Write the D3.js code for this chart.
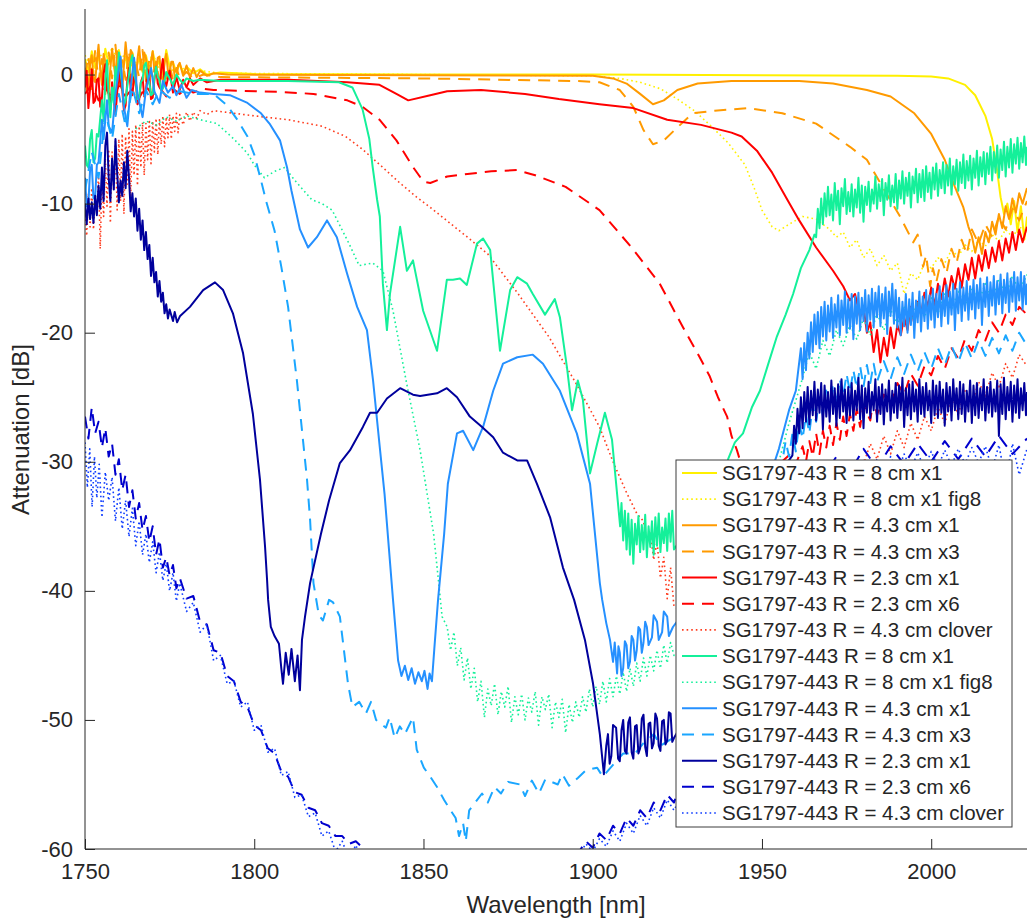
<!DOCTYPE html>
<html><head><meta charset="utf-8">
<script src="https://cdn.jsdelivr.net/npm/d3@7/dist/d3.min.js"></script>
<style>body{margin:0;background:#fff}svg{display:block}text{font-family:"Liberation Sans",Arial,Helvetica,sans-serif;fill:#262626}</style>
</head><body><svg id="c" width="1027" height="920"></svg>
<script>
// ---------- data ([wavelength nm, attenuation dB]) ----------
const xTicks = [1750, 1800, 1850, 1900, 1950, 2000];
const yTicks = [-60, -50, -40, -30, -20, -10, 0];
const seriesNames = ["SG1797-43 R = 8 cm x1","SG1797-43 R = 8 cm x1 fig8","SG1797-43 R = 4.3 cm x1","SG1797-43 R = 4.3 cm x3","SG1797-43 R = 2.3 cm x1","SG1797-43 R = 2.3 cm x6","SG1797-43 R = 4.3 cm clover","SG1797-443 R = 8 cm x1","SG1797-443 R = 8 cm x1 fig8","SG1797-443 R = 4.3 cm x1","SG1797-443 R = 4.3 cm x3","SG1797-443 R = 2.3 cm x1","SG1797-443 R = 2.3 cm x6","SG1797-443 R = 4.3 cm clover"];
const seriesColors = ["#fff000","#fff000","#ff9a00","#ff9a00","#ff0000","#ff0000","#ff3d1f","#14f09a","#14f09a","#2590ff","#1aa6ff","#00009c","#0000cd","#0d3bff"];
const seriesStyles = ["solid","dotted","solid","dashed","solid","dashed","dotted","solid","dotted","solid","dashed","solid","dashed","dotted"];

const yellow8 = [[1750,1.2],[1751,0.2],[1752,1.8],[1753,0.5],[1754,1.5],[1755,-0.3],[1756,2.0],[1757,0.8],[1758,1.6],[1759,0.1],[1760,1.9],[1761,0.6],[1762,1.4],[1763,-0.2],[1764,1.7],[1765,0.4],[1766,1.3],[1767,0.2],[1768,1.5],[1769,0.3],[1770,1.8],[1771,0.5],[1772,1.1],[1773,0.0],[1774,1.9],[1775,0.6],[1776,0.9],[1777,0.2],[1778,0.8],[1779,0.1],[1780,0.6],[1782,0.1],[1784,0.4],[1786,0.0],[1790,0.15],[1800,0.05],[1850,0.0],[1900,0.0],[1950,-0.05],[1990,-0.1],[2000,-0.15],[2005,-0.3],[2010,-0.8],[2013,-1.6],[2016,-3.2],[2018,-5.0],[2019.5,-7.5],[2020.5,-9.5],[2021.5,-10.8],[2022.5,-10.0],[2023.5,-11.6],[2024.5,-9.8],[2025.5,-12.2],[2026.5,-10.2],[2027.5,-12.8],[2028.3,-11.0]];
const yellow8fig8 = [[1750,1.5],[1752,0.4],[1754,1.9],[1756,0.7],[1758,2.1],[1760,0.9],[1762,1.7],[1764,0.5],[1766,1.4],[1768,0.3],[1770,1.6],[1772,0.4],[1774,1.2],[1776,0.3],[1778,0.7],[1780,0.2],[1784,0.3],[1790,0.1],[1850,0.0],[1900,-0.1],[1908,-0.3],[1914,-0.6],[1920,-1.1],[1925,-1.9],[1930,-2.8],[1935,-4.0],[1940,-5.3],[1945,-7.0],[1948,-9.0],[1950,-10.5],[1953,-11.8],[1955,-12.1],[1958,-11.6],[1962,-11.0],[1966,-11.2],[1970,-12.0],[1972,-12.6],[1974,-12.2],[1976,-13.4],[1978,-12.8],[1980,-14.2],[1982,-13.5],[1984,-14.8],[1986,-14.0],[1988,-15.2],[1990,-14.6],[1992,-17.0],[1994,-15.4],[1996,-15.9],[1998,-14.6],[2000,-15.0],[2002,-14.2],[2004,-14.6],[2006,-13.6],[2008,-14.1],[2010,-13.2],[2012,-13.7],[2014,-12.8],[2016,-13.3],[2018,-12.4],[2020,-12.9],[2022,-12.0],[2024,-12.6],[2026,-11.8],[2028.3,-12.2]];
const orange43 = [[1750,0.5],[1750.5,-1.3],[1751,-1.0],[1751.5,0.8],[1752,1.5],[1752.5,-0.2],[1753,-0.6],[1753.5,1.0],[1754,2.3],[1754.5,0.4],[1755,-0.8],[1755.5,1.6],[1756,1.0],[1756.5,-0.6],[1757,-1.4],[1757.5,0.5],[1758,2.0],[1758.5,0.9],[1759,-0.2],[1759.5,1.8],[1760,1.2],[1760.5,-0.5],[1761,-1.2],[1761.5,0.7],[1762,2.5],[1762.5,1.1],[1763,0.0],[1763.5,1.9],[1764,1.6],[1764.5,-0.3],[1765,-0.9],[1765.5,1.2],[1766,2.2],[1766.5,0.6],[1767,0.3],[1767.5,1.7],[1768,1.3],[1768.5,-0.1],[1769,-0.7],[1769.5,1.0],[1770,1.8],[1770.5,0.2],[1771,0.1],[1771.5,1.3],[1772,1.4],[1772.5,-0.2],[1773,-0.4],[1773.5,0.9],[1774,1.6],[1774.5,0.3],[1775,0.2],[1775.5,1.0],[1776,1.0],[1776.5,-0.2],[1777,-0.3],[1777.5,0.7],[1778,0.9],[1779,-0.1],[1780,0.7],[1781,-0.2],[1782,0.5],[1783,-0.2],[1784,0.3],[1786,-0.1],[1788,0.1],[1792,0.0],[1850,-0.05],[1900,-0.1],[1906,-0.3],[1910,-0.7],[1914,-1.5],[1917.8,-2.3],[1921,-2.0],[1925,-1.2],[1931,-0.7],[1941,-0.5],[1961,-0.5],[1971,-0.7],[1981,-1.2],[1988,-1.7],[1995,-3.0],[2000,-4.6],[2004,-6.6],[2007,-8.7],[2009.5,-10.3],[2011,-11.8],[2012,-12.5],[2013,-13.8],[2014,-12.6],[2015,-13.9],[2016,-12.2],[2017,-13.0],[2018,-11.4],[2019,-12.4],[2020,-10.8],[2021,-11.9],[2022,-10.2],[2023,-11.2],[2024,-9.6],[2025,-10.7],[2026,-9.2],[2027,-10.0],[2028.3,-8.8]];
const orange43x3 = [[1750,0.0],[1751,1.4],[1752,-1.2],[1753,1.9],[1754,-0.5],[1755,1.2],[1756,-1.5],[1757,1.7],[1758,-0.3],[1759,2.3],[1760,-0.9],[1761,1.1],[1762,-0.4],[1763,1.8],[1764,-1.0],[1765,0.9],[1766,-0.2],[1767,1.9],[1768,-0.5],[1769,1.2],[1770,-0.3],[1771,1.0],[1772,-0.6],[1773,0.8],[1774,-0.3],[1775,0.7],[1776,-0.4],[1777,0.5],[1778,-0.3],[1780,0.2],[1782,-0.3],[1785,0.0],[1790,-0.2],[1850,-0.3],[1895,-0.5],[1902,-0.6],[1908,-1.2],[1912,-2.5],[1915,-4.3],[1917.8,-5.4],[1921,-5.1],[1925,-4.1],[1929.5,-3.0],[1936,-2.8],[1946,-2.6],[1956,-3.0],[1966,-3.8],[1976,-5.6],[1981,-6.6],[1985.6,-8.7],[1990.8,-11.0],[1994.7,-13.0],[1996,-12.4],[1997.6,-14.9],[1998.5,-14.0],[1999.7,-16.4],[2000.5,-15.0],[2001.5,-16.1],[2003,-14.3],[2004.5,-15.4],[2006,-13.5],[2007.5,-14.6],[2009,-12.8],[2010.5,-13.9],[2012,-12.0],[2014,-13.1],[2016,-11.6],[2018,-12.6],[2020,-11.0],[2022,-12.0],[2024,-10.4],[2026,-11.3],[2028.3,-9.8]];
const red23 = [[1750,-1.0],[1750.5,0.3],[1751,-2.6],[1751.5,-1.1],[1752,0.4],[1752.5,-2.2],[1753,-2.0],[1753.5,-0.4],[1754,-0.3],[1754.5,-2.5],[1755,-1.8],[1755.5,0.1],[1756,0.8],[1756.5,-1.0],[1757,-1.5],[1757.5,-2.7],[1758,-0.6],[1758.5,-1.9],[1759,-3.1],[1759.5,-1.4],[1760,0.2],[1760.5,-0.8],[1761,-1.2],[1761.5,-2.8],[1762,-2.4],[1762.5,-0.5],[1763,0.5],[1763.5,-1.1],[1764,-1.6],[1764.5,-0.2],[1765,-0.5],[1765.5,-2.3],[1766,-2.0],[1766.5,-0.6],[1767,-0.2],[1767.5,-1.7],[1768,-1.3],[1768.5,0.4],[1769,-0.1],[1769.5,-1.9],[1770,-1.8],[1770.5,-0.4],[1771,0.6],[1771.5,-0.7],[1772,-1.0],[1772.5,0.3],[1773,1.2],[1773.5,-0.5],[1774,-0.9],[1775,0.3],[1776,-1.4],[1777,-0.2],[1778,-1.2],[1779,-0.4],[1780,-1.0],[1781,-0.3],[1782,-0.8],[1784,-0.3],[1786,-0.6],[1790,-0.4],[1810,-0.4],[1827.5,-0.6],[1837,-0.8],[1842,-1.5],[1845.5,-2.0],[1852,-1.6],[1857,-1.3],[1867,-1.2],[1880,-1.5],[1890,-1.9],[1902,-2.3],[1912,-2.6],[1922,-3.5],[1932,-3.9],[1941,-4.5],[1944,-4.8],[1948.5,-5.9],[1953,-7.6],[1957.5,-9.7],[1961,-11.3],[1966,-13.4],[1971,-15.2],[1974,-16.4],[1976,-17.5],[1977.5,-17.0],[1979,-18.8],[1980,-18.0],[1981,-20.0],[1982,-19.2],[1983,-21.5],[1984,-19.8],[1985,-22.3],[1986,-20.4],[1987,-21.8],[1988,-19.6],[1989,-21.2],[1990,-19.4],[1991,-20.2],[1992,-18.8],[1993,-19.8],[1994,-18.0],[1995,-19.3],[1996,-17.6],[1997,-18.6],[1998,-16.9],[1999,-18.0],[2000,-16.5],[2001,-17.9],[2002,-16.2],[2003,-17.4],[2004,-15.8],[2005,-17.2],[2006,-15.6],[2007,-16.6],[2008,-15.0],[2009,-16.5],[2010,-14.7],[2011,-15.9],[2012,-14.2],[2013,-15.8],[2014,-14.0],[2015,-15.2],[2016,-13.6],[2017,-15.0],[2018,-13.4],[2019,-14.5],[2020,-12.9],[2021,-14.4],[2022,-12.7],[2023,-13.8],[2024,-12.2],[2025,-13.6],[2026,-12.0],[2027,-13.0],[2028.3,-11.8]];
const red23x6 = [[1750,-1.5],[1752,-0.8],[1754,-2.0],[1756,-1.0],[1758,-1.9],[1760,-0.9],[1762,-1.7],[1764,-1.1],[1766,-1.8],[1768,-0.9],[1770,-1.6],[1772,-1.0],[1774,-1.7],[1776,-1.1],[1778,-1.5],[1780,-1.0],[1782,-1.4],[1785,-1.1],[1788,-1.2],[1808,-1.35],[1817.5,-1.5],[1827.5,-2.0],[1832,-2.5],[1837,-3.5],[1842,-5.1],[1847,-7.2],[1850,-8.3],[1852,-8.4],[1857,-7.9],[1863,-7.7],[1870,-7.5],[1877.6,-7.4],[1883,-7.8],[1892,-8.7],[1902,-10.5],[1911.5,-13.4],[1919.8,-16.2],[1926.7,-19.6],[1931.6,-21.9],[1934.6,-23.4],[1937,-25.0],[1939.7,-26.5],[1941,-28.0],[1942.6,-29.1],[1944,-30.3],[1946,-30.6],[1950,-30.5],[1955,-30.2],[1958,-29.5],[1960,-30.2],[1962,-28.8],[1963,-30.0],[1964,-28.4],[1965,-29.6],[1966,-27.8],[1967,-29.4],[1968,-27.6],[1969,-28.9],[1970,-27.2],[1971,-28.7],[1972,-27.0],[1973,-28.3],[1974,-26.5],[1975,-28.0],[1976,-26.3],[1977,-27.6],[1978,-25.9],[1979,-27.3],[1980,-25.6],[1982,-26.8],[1983,-25.0],[1984,-26.4],[1986,-24.8],[1988,-25.6],[1990,-23.9],[1992,-24.8],[1994,-23.2],[1996,-24.1],[1998,-22.6],[2000,-23.3],[2002,-21.8],[2004,-22.8],[2006,-21.2],[2008,-22.0],[2010,-20.5],[2012,-21.4],[2014,-19.8],[2016,-20.6],[2018,-19.2],[2020,-20.0],[2022,-18.6],[2024,-19.4],[2026,-18.0],[2028.3,-18.6]];
const red43clover = [[1750,-10.5],[1750.5,-12.5],[1751,-9.2],[1751.5,-11.8],[1752,-8.8],[1752.5,-12.0],[1753,-9.5],[1753.5,-10.8],[1754,-7.5],[1754.5,-13.5],[1755,-8.0],[1755.5,-11.0],[1756,-6.5],[1756.5,-10.2],[1757,-5.8],[1757.5,-11.5],[1758,-6.0],[1758.5,-9.0],[1759,-5.2],[1759.5,-10.5],[1760,-5.0],[1760.5,-9.8],[1761,-4.6],[1761.5,-10.8],[1762,-4.8],[1762.5,-8.5],[1763,-4.2],[1763.5,-9.6],[1764,-4.4],[1764.5,-7.8],[1765,-3.9],[1765.5,-8.6],[1766,-4.0],[1766.5,-7.2],[1767,-3.7],[1767.5,-7.8],[1768,-3.8],[1768.5,-6.6],[1769,-3.5],[1769.5,-6.9],[1770,-3.6],[1770.5,-6.0],[1771,-3.4],[1771.5,-6.2],[1772,-3.5],[1772.5,-5.4],[1773,-3.2],[1773.5,-5.6],[1774,-3.3],[1774.5,-4.9],[1775,-3.1],[1775.5,-5.0],[1776,-3.2],[1776.5,-4.4],[1777,-3.0],[1777.5,-4.5],[1778,-3.1],[1779,-3.9],[1780,-2.9],[1781,-3.6],[1782,-2.9],[1783,-3.4],[1784,-2.8],[1786,-3.1],[1788,-2.8],[1800,-3.2],[1810,-3.5],[1820,-4.0],[1827,-4.8],[1832,-5.8],[1838,-7.2],[1843,-8.4],[1848,-9.5],[1853,-10.5],[1863,-12.6],[1869,-13.9],[1878,-17.0],[1887,-20.3],[1895,-23.9],[1902,-27.3],[1906,-30.0],[1910,-32.4],[1913,-34.0],[1915,-34.6],[1916,-36.2],[1917,-35.4],[1918,-37.6],[1919,-36.2],[1920,-39.0],[1921,-37.4],[1922,-40.6],[1923,-38.2],[1924,-41.2],[1935,-43],[1950,-40],[1962,-36],[1975,-31.5],[1980,-30.2],[1982,-28.6],[1984,-29.8],[1986,-28.0],[1988,-29.4],[1990,-27.6],[1992,-28.9],[1994,-27.0],[1996,-28.3],[1998,-26.5],[2000,-27.6],[2002,-25.8],[2004,-27.0],[2006,-25.2],[2008,-26.3],[2010,-24.5],[2012,-25.6],[2014,-23.8],[2016,-24.9],[2018,-23.1],[2020,-24.2],[2022,-22.4],[2024,-23.5],[2026,-21.7],[2028.3,-22.6]];
const green8 = [[1750,-5.5],[1750.5,-7.0],[1751,-7.2],[1751.5,-5.0],[1752,-4.3],[1752.5,-6.8],[1753,-6.5],[1753.5,-4.6],[1754,-4.8],[1754.5,-3.4],[1755,-2.0],[1755.5,-3.6],[1756,-0.5],[1756.5,1.1],[1757,-1.8],[1757.5,-3.3],[1758,-1.0],[1758.5,-2.2],[1759,0.6],[1759.5,-0.6],[1760,1.7],[1760.5,0.2],[1761,-0.8],[1761.5,-2.4],[1762,-2.0],[1762.5,-0.9],[1763,0.0],[1763.5,1.0],[1764,1.5],[1764.5,0.1],[1765,-0.5],[1765.5,-1.9],[1766,-1.8],[1766.5,-0.6],[1767,-0.4],[1767.5,0.7],[1768,0.9],[1768.5,-0.3],[1769,-0.6],[1769.5,-1.6],[1770,-1.5],[1770.5,-0.2],[1771,0.6],[1771.5,-0.2],[1772,-0.4],[1772.5,-1.2],[1773,-1.1],[1774,0.2],[1775,-0.3],[1776,-0.8],[1777,0.0],[1778,-0.4],[1779,-0.7],[1780,-0.3],[1782,-0.5],[1784,-0.4],[1790,-0.5],[1810,-0.5],[1825,-0.6],[1829,-1.0],[1832,-2.7],[1834,-5.0],[1835,-7.2],[1836.3,-9.7],[1837.1,-11.0],[1838,-16.2],[1839.2,-19.8],[1840.1,-17.0],[1843.1,-11.8],[1845.1,-15.2],[1846.9,-14.4],[1849.9,-18.3],[1854,-21.4],[1856.9,-15.9],[1858.7,-15.9],[1860.8,-15.8],[1862.8,-16.3],[1865.8,-13.1],[1867.6,-12.7],[1869.7,-13.6],[1872.6,-21.4],[1875.6,-16.7],[1877.7,-15.7],[1880.6,-16.2],[1882.3,-17.0],[1885.9,-18.6],[1888.8,-17.4],[1890.3,-18.8],[1892.4,-22.7],[1893.9,-26.0],[1895.6,-23.7],[1897.1,-25.2],[1899.2,-30.9],[1901.3,-28.6],[1903.6,-26.2],[1905.7,-28.3],[1908.1,-35.0],[1908.5,-33.2],[1909,-36.1],[1909.5,-33.8],[1910,-36.8],[1910.5,-34.0],[1911,-37.2],[1911.5,-34.5],[1912,-37.9],[1912.5,-34.8],[1913,-36.4],[1913.5,-34.2],[1914,-37.0],[1914.5,-34.9],[1915,-36.8],[1915.5,-34.1],[1916,-37.4],[1916.5,-35.0],[1917,-36.6],[1917.5,-34.6],[1918,-37.2],[1918.5,-34.3],[1919,-36.5],[1919.5,-34.0],[1920,-37.0],[1920.5,-35.1],[1921,-36.3],[1921.5,-34.4],[1922,-36.9],[1922.5,-34.0],[1923,-36.2],[1923.5,-33.8],[1924,-36.8],[1926,-36.0],[1932,-35.5],[1938,-31.5],[1940,-29.8],[1942,-28.5],[1944.4,-27.8],[1947,-25.8],[1949.4,-24.5],[1952,-22.3],[1954.4,-20.3],[1957,-18.6],[1959.2,-17.0],[1961.5,-15.0],[1964,-13.6],[1965.5,-12.4],[1966,-12.6],[1966.5,-10.4],[1967,-11.9],[1967.5,-9.6],[1968,-11.6],[1968.5,-9.2],[1969,-11.0],[1969.5,-8.7],[1970,-10.9],[1970.5,-9.3],[1971,-11.3],[1971.5,-8.4],[1972,-10.5],[1972.5,-9.0],[1973,-11.6],[1973.5,-8.8],[1974,-10.2],[1974.5,-8.1],[1975,-10.8],[1975.5,-9.1],[1976,-10.6],[1976.5,-8.5],[1977,-11.0],[1977.5,-8.9],[1978,-10.3],[1978.5,-8.0],[1979,-10.7],[1979.5,-8.6],[1980,-11.4],[1980.5,-8.7],[1981,-10.1],[1981.5,-8.3],[1982,-10.6],[1982.5,-8.9],[1983,-10.0],[1983.5,-7.9],[1984,-10.4],[1984.5,-8.5],[1985,-9.8],[1985.5,-8.1],[1986,-10.9],[1986.5,-8.4],[1987,-9.7],[1987.5,-7.8],[1988,-10.2],[1988.5,-8.6],[1989,-9.9],[1989.5,-7.7],[1990,-10.4],[1990.5,-8.2],[1991,-9.6],[1991.5,-7.5],[1992,-10.0],[1992.5,-8.0],[1993,-9.4],[1993.5,-7.6],[1994,-10.3],[1994.5,-7.9],[1995,-9.2],[1995.5,-7.3],[1996,-9.9],[1996.5,-7.7],[1997,-9.5],[1997.5,-7.4],[1998,-9.8],[1998.5,-7.1],[1999,-9.1],[1999.5,-7.6],[2000,-9.6],[2000.5,-7.2],[2001,-8.9],[2001.5,-6.9],[2002,-9.4],[2002.5,-7.4],[2003,-8.8],[2003.5,-6.8],[2004,-9.2],[2004.5,-7.0],[2005,-8.6],[2005.5,-6.5],[2006,-9.3],[2006.5,-7.1],[2007,-8.5],[2007.5,-6.6],[2008,-9.0],[2008.5,-6.8],[2009,-8.4],[2009.5,-6.2],[2010,-8.8],[2010.5,-6.7],[2011,-8.2],[2011.5,-6.3],[2012,-8.9],[2012.5,-6.5],[2013,-8.0],[2013.5,-5.9],[2014,-8.6],[2014.5,-6.4],[2015,-7.9],[2015.5,-6.0],[2016,-8.5],[2016.5,-6.1],[2017,-7.7],[2017.5,-5.6],[2018,-8.2],[2018.5,-6.0],[2019,-7.6],[2019.5,-5.5],[2020,-8.0],[2020.5,-5.8],[2021,-7.4],[2021.5,-5.2],[2022,-7.9],[2022.5,-5.6],[2023,-7.2],[2023.5,-5.0],[2024,-7.6],[2024.5,-5.4],[2025,-6.9],[2025.5,-4.9],[2026,-7.3],[2026.5,-5.3],[2027,-6.8],[2027.5,-4.8],[2028,-7.0],[2028.3,-5.6]];
const green8fig8 = [[1765,-4.2],[1768,-3.6],[1771,-3.9],[1774,-3.3],[1777,-3.6],[1780,-3.2],[1784,-3.5],[1789,-3.8],[1794,-5.0],[1798,-6.1],[1800,-7.0],[1803,-8.0],[1806,-7.5],[1809,-7.2],[1812,-8.2],[1817,-9.7],[1820,-10.0],[1823,-10.5],[1828,-13.1],[1831,-14.8],[1835,-14.6],[1838,-15.2],[1841,-18.3],[1845,-23.9],[1849,-29.1],[1853,-35.6],[1854.5,-39.4],[1855.5,-42.0],[1857,-42.8],[1858,-44.6],[1859,-43.2],[1860,-45.8],[1861,-44.4],[1862,-46.9],[1863,-45.2],[1864,-47.6],[1865,-46.0],[1866,-48.6],[1867,-47.0],[1868,-49.8],[1869,-47.6],[1870,-48.9],[1871,-47.2],[1872,-49.6],[1873,-47.8],[1874,-49.0],[1875,-47.4],[1876,-50.2],[1877,-48.2],[1878,-49.6],[1879,-48.0],[1880,-50.0],[1881,-48.3],[1882,-49.4],[1883,-47.8],[1884,-50.4],[1885,-48.2],[1886,-49.2],[1887,-48.0],[1888,-50.6],[1889,-48.6],[1890,-49.8],[1891,-48.4],[1892,-51.0],[1893,-48.8],[1894,-50.2],[1895,-48.6],[1896,-49.8],[1897,-48.2],[1898,-49.4],[1899,-47.6],[1900,-49.0],[1901,-47.4],[1902,-48.8],[1903,-47.0],[1904,-48.6],[1905,-46.8],[1906,-48.2],[1907,-46.6],[1908,-48.0],[1909,-46.3],[1910,-47.8],[1911,-46.0],[1912,-47.4],[1913,-45.6],[1914,-47.0],[1915,-45.2],[1916,-46.6],[1917,-45.0],[1918,-46.2],[1919,-44.6],[1920,-46.0],[1921,-44.2],[1922,-45.6],[1923,-44.0],[1924,-45.0],[1935,-47],[1950,-35],[1958,-27],[1962,-23.5],[1964,-21.5],[1966,-22.8],[1968,-20.6],[1970,-21.8],[1972,-19.8],[1974,-21.0],[1976,-19.4],[1978,-20.5],[1980,-18.9],[1982,-20.2],[1984,-18.5],[1986,-19.8],[1988,-18.2],[1990,-19.4],[1992,-17.9],[1994,-19.1],[1996,-17.6],[1998,-18.8],[2000,-17.3],[2002,-18.5],[2004,-17.0],[2006,-18.2],[2008,-16.8],[2010,-17.9],[2012,-16.5],[2014,-17.6],[2016,-16.2],[2018,-17.4],[2020,-15.9],[2022,-17.1],[2024,-15.6],[2026,-16.8],[2028.3,-15.5]];
const blue43 = [[1750,-8.0],[1750.5,-10.2],[1751,-10.0],[1751.5,-7.4],[1752,-7.0],[1752.5,-9.6],[1753,-9.5],[1753.5,-7.0],[1754,-6.8],[1754.5,-5.2],[1755,-3.5],[1755.5,-5.0],[1756.5,-2.0],[1757,-4.0],[1758,-4.5],[1759,-1.5],[1760.5,1.4],[1761.5,-2.5],[1762.5,-4.0],[1763.5,-1.0],[1764.5,1.3],[1765.5,-1.5],[1767,-3.3],[1768,-1.2],[1769.5,0.5],[1770.5,-1.3],[1772,-2.2],[1773,-0.5],[1774.5,-1.4],[1776,-0.9],[1777,-1.6],[1778.5,-0.8],[1780,-1.8],[1781.5,-1.2],[1784,-1.4],[1788,-1.5],[1792.8,-1.6],[1798,-2.2],[1802,-3.0],[1804.5,-3.8],[1807.6,-5.1],[1809.7,-7.2],[1811,-9.0],[1813.5,-12.0],[1815.9,-13.4],[1818.5,-12.6],[1821.5,-11.3],[1824.4,-12.6],[1827.4,-15.4],[1830.4,-18.0],[1833.3,-19.8],[1835.1,-23.7],[1837.1,-28.9],[1838.5,-32.5],[1841,-40.7],[1842.5,-45.4],[1843.5,-46.6],[1844.5,-45.8],[1845.5,-46.9],[1846.5,-46.0],[1847.5,-47.2],[1848.5,-46.3],[1849.5,-47.0],[1850.3,-46.2],[1851.2,-47.6],[1851.8,-46.4],[1852.5,-47.0],[1853.2,-44.5],[1854.3,-40.7],[1856.1,-35.6],[1857.2,-31.7],[1859.9,-27.8],[1861.7,-27.6],[1864.7,-29.1],[1867.6,-27.3],[1870.6,-24.5],[1873.5,-22.4],[1877.7,-21.9],[1882.3,-21.7],[1885.3,-22.4],[1890.3,-24.5],[1895.3,-27.8],[1899.2,-31.7],[1902.1,-39.4],[1902.8,-40.7],[1904,-42.5],[1905.1,-43.8],[1906,-45.5],[1906.5,-44.0],[1907.2,-46.4],[1907.6,-44.3],[1908,-44.8],[1908.5,-46.6],[1909,-46.0],[1909.5,-43.9],[1910,-44.2],[1910.5,-46.0],[1911,-45.5],[1911.5,-43.5],[1912,-43.8],[1912.5,-45.4],[1913,-44.6],[1913.5,-42.8],[1914,-43.0],[1914.5,-44.8],[1915,-44.0],[1915.5,-42.4],[1916,-42.8],[1916.5,-44.2],[1917.5,-43.6],[1918,-41.9],[1919,-42.4],[1919.5,-43.8],[1920.5,-43.2],[1921,-41.6],[1922,-42.0],[1922.5,-43.5],[1923.7,-42.8],[1926,-42.0],[1940,-38],[1950,-33],[1955,-29],[1958,-26],[1960,-24.5],[1961.5,-21.2],[1962,-23.6],[1962.5,-20.8],[1963,-22.9],[1963.5,-20.0],[1964,-22.0],[1964.5,-19.2],[1965,-21.5],[1965.5,-18.6],[1966,-20.9],[1966.5,-18.4],[1967,-21.2],[1967.5,-18.0],[1968,-20.3],[1968.5,-17.6],[1969,-20.6],[1969.5,-17.9],[1970,-19.9],[1970.5,-17.3],[1971,-20.4],[1971.5,-17.8],[1972,-19.6],[1972.5,-17.1],[1973,-20.2],[1973.5,-17.5],[1974,-19.4],[1974.5,-16.8],[1975,-20.0],[1975.5,-17.4],[1976,-19.7],[1976.5,-17.0],[1977,-20.5],[1977.5,-17.2],[1978,-19.3],[1978.5,-16.9],[1979,-19.8],[1979.5,-17.3],[1980,-19.1],[1980.5,-16.7],[1981,-19.9],[1981.5,-17.1],[1982,-19.0],[1982.5,-16.6],[1983,-19.6],[1983.5,-16.9],[1984,-18.8],[1984.5,-16.4],[1985,-19.5],[1985.5,-17.0],[1986,-18.9],[1986.5,-16.5],[1987,-20.1],[1987.5,-16.8],[1988,-18.7],[1988.5,-16.2],[1989,-19.3],[1989.5,-16.7],[1990,-19.6],[1990.5,-17.3],[1991,-20.2],[1991.5,-17.6],[1992,-19.5],[1992.5,-17.0],[1993,-20.0],[1993.5,-17.4],[1994,-19.4],[1994.5,-16.9],[1995,-20.4],[1995.5,-17.5],[1996,-19.2],[1996.5,-16.8],[1997,-19.9],[1997.5,-17.2],[1998,-19.1],[1998.5,-16.7],[1999,-19.7],[1999.5,-17.1],[2000,-19.0],[2000.5,-16.6],[2001,-19.6],[2001.5,-17.0],[2002,-18.8],[2002.5,-16.4],[2003,-19.5],[2003.5,-16.9],[2004,-18.7],[2004.5,-16.3],[2005,-19.3],[2005.5,-16.8],[2006,-18.6],[2006.5,-16.2],[2007,-19.8],[2007.5,-16.6],[2008,-18.5],[2008.5,-16.1],[2009,-19.1],[2009.5,-16.5],[2010,-18.3],[2010.5,-16.0],[2011,-19.0],[2011.5,-16.4],[2012,-18.2],[2012.5,-15.9],[2013,-18.9],[2013.5,-16.3],[2014,-18.1],[2014.5,-15.8],[2015,-19.4],[2015.5,-16.2],[2016,-18.0],[2016.5,-15.7],[2017,-18.7],[2017.5,-16.1],[2018,-17.9],[2018.5,-15.6],[2019,-18.6],[2019.5,-16.0],[2020,-17.8],[2020.5,-15.5],[2021,-18.5],[2021.5,-15.9],[2022,-17.7],[2022.5,-15.4],[2023,-18.4],[2023.5,-15.8],[2024,-17.6],[2024.5,-15.3],[2025,-18.3],[2025.5,-15.7],[2026,-17.5],[2026.5,-15.3],[2027,-18.2],[2027.5,-15.6],[2028,-17.8],[2028.3,-16.2]];
const blue43x3 = [[1750,-9.0],[1752,-6.0],[1754,-8.0],[1756,-3.0],[1758,-5.0],[1760,-1.5],[1762,-4.0],[1764,-1.0],[1766,-3.0],[1768,-1.2],[1770,-2.3],[1772,-1.2],[1775,-1.8],[1778,-1.3],[1782,-1.5],[1788,-1.5],[1792,-2.4],[1795,-3.5],[1798,-4.8],[1800,-6.2],[1802,-8.2],[1803.5,-9.8],[1806,-12.1],[1808,-14.9],[1810,-18.0],[1812.6,-23.7],[1815.6,-31.4],[1816.5,-34.5],[1817.5,-39.4],[1819.1,-41.9],[1820.3,-42.3],[1822.1,-40.7],[1823.3,-40.9],[1825.3,-42.0],[1827.7,-47.2],[1829,-49.0],[1831,-48.6],[1833,-49.5],[1834.5,-48.6],[1836,-50.0],[1838.9,-50.6],[1840,-49.8],[1841.5,-51.4],[1843,-50.5],[1844.5,-51.1],[1846.9,-49.8],[1848,-52.3],[1850.1,-53.7],[1852,-54.4],[1854,-55.2],[1856.1,-56.2],[1858,-57.0],[1859.5,-57.6],[1860.5,-59.0],[1861.7,-58.0],[1862.5,-59.4],[1863.5,-57.0],[1865,-56.5],[1867.3,-55.7],[1869,-56.4],[1871,-55.2],[1872.9,-55.7],[1875,-54.8],[1878.5,-55.0],[1880,-55.9],[1882,-54.7],[1884.1,-55.7],[1886,-54.6],[1889.7,-55.0],[1891,-54.2],[1893,-55.1],[1895.6,-54.5],[1898,-53.9],[1901.3,-53.7],[1903,-54.4],[1906.9,-53.2],[1909,-52.6],[1912.5,-52.6],[1915,-51.8],[1918.1,-51.1],[1920,-52.0],[1923.7,-51.4],[1930,-49],[1945,-40],[1956,-30.0],[1957,-28.4],[1958,-29.6],[1959,-27.8],[1960,-29.2],[1961,-27.0],[1962,-28.2],[1963,-26.4],[1964,-27.8],[1965,-25.6],[1966,-26.9],[1967,-25.0],[1968,-26.4],[1969,-24.4],[1970,-25.8],[1971,-24.0],[1972,-25.5],[1973,-23.6],[1974,-24.9],[1975,-23.2],[1976,-24.6],[1977,-22.9],[1978,-24.3],[1979,-22.6],[1980,-24.2],[1981,-22.5],[1982,-23.9],[1983,-22.4],[1984,-23.8],[1986,-22.2],[1988,-23.6],[1990,-21.9],[1992,-23.2],[1994,-21.7],[1996,-23.0],[1998,-21.5],[2000,-22.8],[2002,-21.2],[2004,-22.5],[2006,-21.0],[2008,-22.3],[2010,-20.8],[2012,-22.0],[2014,-20.6],[2016,-21.8],[2018,-20.4],[2020,-21.6],[2022,-20.2],[2024,-21.4],[2026,-20.0],[2028.3,-21.0]];
const navy23 = [[1750,-10.0],[1750.5,-11.6],[1751,-9.6],[1751.5,-11.2],[1752,-9.9],[1752.5,-11.5],[1753,-9.4],[1753.5,-10.9],[1754,-8.6],[1754.5,-10.4],[1755,-7.2],[1755.5,-9.8],[1756,-5.5],[1756.5,-4.5],[1757,-8.0],[1757.5,-9.8],[1758,-6.5],[1758.5,-8.9],[1759,-5.0],[1759.5,-7.6],[1760,-9.9],[1760.5,-8.2],[1761,-9.4],[1761.5,-6.8],[1762,-8.8],[1762.5,-5.9],[1763,-8.0],[1763.5,-10.6],[1764,-9.2],[1764.5,-11.0],[1765,-9.6],[1765.5,-12.1],[1766,-10.4],[1766.5,-12.8],[1767,-11.3],[1767.5,-13.6],[1768,-12.2],[1768.5,-14.3],[1769,-13.2],[1769.5,-15.6],[1770,-14.2],[1770.5,-16.1],[1771,-15.3],[1771.5,-17.2],[1772,-16.0],[1772.5,-17.6],[1773,-16.9],[1773.5,-18.5],[1774,-17.8],[1774.5,-18.9],[1775,-18.2],[1776,-19.1],[1776.5,-18.4],[1777.2,-19.2],[1778.1,-18.7],[1781,-18.0],[1784.9,-16.7],[1788.4,-16.1],[1790.8,-16.7],[1793.7,-18.5],[1796.7,-21.6],[1799.6,-26.3],[1801.7,-31.4],[1803.2,-36.6],[1803.8,-39.2],[1804.1,-40.7],[1804.9,-42.8],[1806,-43.5],[1807.3,-44.1],[1808,-46.0],[1808.5,-47.2],[1809.3,-44.8],[1810.2,-46.5],[1811,-44.5],[1812,-47.0],[1812.8,-45.0],[1813.5,-47.7],[1814.1,-43.8],[1815,-42.0],[1816.5,-39.4],[1819.7,-35.6],[1822.1,-33.0],[1825.3,-30.1],[1828.3,-29.1],[1832.1,-27.3],[1834.2,-26.2],[1836.3,-26.2],[1839.2,-25.1],[1843.1,-24.3],[1846.9,-24.8],[1849,-24.9],[1854,-24.7],[1856.9,-24.3],[1859.9,-25.0],[1863.7,-26.5],[1867.3,-27.3],[1870.6,-28.1],[1873.5,-29.3],[1877.7,-29.9],[1880.6,-29.9],[1883.5,-31.7],[1887.4,-34.3],[1891.2,-38.2],[1894.5,-40.7],[1897.7,-43.8],[1900.1,-47.2],[1902.1,-51.1],[1903.3,-54.2],[1904,-52.0],[1904.5,-51.1],[1905,-53.4],[1905.5,-52.8],[1906,-50.4],[1906.9,-50.6],[1907.5,-53.0],[1908,-53.2],[1908.5,-50.8],[1909,-50.0],[1909.5,-52.4],[1910,-52.6],[1910.5,-50.2],[1911,-49.8],[1911.5,-52.5],[1912,-53.0],[1912.5,-50.5],[1913,-50.4],[1913.5,-52.6],[1914,-52.2],[1914.5,-49.9],[1915,-49.6],[1915.5,-52.1],[1916,-52.8],[1916.5,-50.3],[1917,-50.2],[1917.5,-52.2],[1918,-51.8],[1918.5,-49.5],[1919,-49.9],[1919.5,-52.0],[1920,-52.4],[1920.5,-50.1],[1921,-50.0],[1921.5,-51.9],[1922,-51.6],[1922.5,-49.4],[1923,-49.5],[1923.5,-51.7],[1924,-51.4],[1926,-50.5],[1945,-40],[1955,-31],[1959,-29.5],[1959.5,-27.2],[1960,-28.6],[1960.5,-25.9],[1961,-27.8],[1961.5,-25.0],[1962,-27.4],[1962.5,-24.6],[1963,-26.9],[1963.5,-24.2],[1964,-27.1],[1964.5,-24.5],[1965,-26.4],[1965.5,-23.8],[1966,-26.8],[1966.5,-24.4],[1967,-26.2],[1967.5,-23.9],[1968,-27.5],[1968.5,-24.1],[1969,-26.5],[1969.5,-24.6],[1970,-26.9],[1970.5,-23.7],[1971,-26.3],[1971.5,-24.3],[1972,-27.2],[1972.5,-24.0],[1973,-26.6],[1973.5,-23.6],[1974,-26.1],[1974.5,-24.4],[1975,-27.0],[1975.5,-24.2],[1976,-26.4],[1976.5,-23.9],[1977,-26.8],[1977.5,-24.5],[1978,-26.0],[1978.5,-23.5],[1979,-26.7],[1979.5,-24.1],[1980,-27.4],[1980.5,-24.3],[1981,-26.2],[1981.5,-23.8],[1982,-26.6],[1982.5,-24.6],[1983,-26.0],[1983.5,-23.6],[1984,-26.9],[1984.5,-24.2],[1985,-26.3],[1985.5,-24.0],[1986,-27.1],[1986.5,-24.4],[1987,-26.1],[1987.5,-23.7],[1988,-26.8],[1988.5,-24.5],[1989,-26.2],[1989.5,-23.9],[1990,-26.6],[1990.5,-24.1],[1991,-26.0],[1991.5,-23.5],[1992,-27.3],[1992.5,-24.3],[1993,-26.4],[1993.5,-24.0],[1994,-26.7],[1994.5,-23.8],[1995,-26.1],[1995.5,-24.4],[1996,-26.9],[1996.5,-23.6],[1997,-26.3],[1997.5,-24.2],[1998,-26.5],[1998.5,-23.9],[1999,-26.0],[1999.5,-24.5],[2000,-27.0],[2000.5,-23.7],[2001,-26.4],[2001.5,-24.1],[2002,-26.6],[2002.5,-23.8],[2003,-26.2],[2003.5,-24.4],[2004,-27.2],[2004.5,-23.9],[2005,-26.1],[2005.5,-24.2],[2006,-26.8],[2006.5,-23.6],[2007,-26.0],[2007.5,-24.3],[2008,-26.7],[2008.5,-23.8],[2009,-26.3],[2009.5,-24.0],[2010,-26.9],[2010.5,-24.5],[2011,-26.1],[2011.5,-23.7],[2012,-27.0],[2012.5,-24.1],[2013,-26.4],[2013.5,-23.9],[2014,-26.6],[2014.5,-24.3],[2015,-26.0],[2015.5,-23.6],[2016,-26.8],[2016.5,-24.2],[2017,-26.2],[2017.5,-23.8],[2018,-26.5],[2018.5,-24.4],[2019,-26.1],[2019.5,-23.7],[2020,-28.0],[2020.5,-24.0],[2021,-26.3],[2021.5,-23.5],[2022,-26.7],[2022.5,-24.2],[2023,-26.0],[2023.5,-23.8],[2024,-26.9],[2024.5,-24.1],[2025,-26.2],[2025.5,-23.6],[2026,-26.6],[2026.5,-24.3],[2027,-26.0],[2027.5,-23.9],[2028,-26.4],[2028.3,-24.6]];
const navy23x6 = [[1750,-26.5],[1751,-28.2],[1752,-25.8],[1753,-27.8],[1754,-26.9],[1755,-28.9],[1756,-27.4],[1757,-29.6],[1758,-28.6],[1759,-31.0],[1760,-29.8],[1761,-32.2],[1762,-31.0],[1763,-33.5],[1764,-32.2],[1765,-34.4],[1766,-33.2],[1767,-35.3],[1768,-34.2],[1769,-36.2],[1770,-35.0],[1771,-37.2],[1772,-36.0],[1773,-38.2],[1774,-37.4],[1775,-38.8],[1776,-38.0],[1777,-39.8],[1778,-39.0],[1780,-40.6],[1782,-40.4],[1784,-42.4],[1786,-42.6],[1788,-44.6],[1790,-44.8],[1792,-46.6],[1794,-47.0],[1796,-48.6],[1798,-49.0],[1800,-50.4],[1802,-50.8],[1804,-52.2],[1806,-52.6],[1808,-54.0],[1810,-54.4],[1812,-55.6],[1814,-55.8],[1816,-56.8],[1818,-57.0],[1820,-58.0],[1822,-58.2],[1824,-59.0],[1826,-59.0],[1828,-59.6],[1830,-59.4],[1834,-60.4],[1890,-62],[1896,-60.2],[1898,-59.4],[1900,-59.9],[1902,-58.8],[1904,-59.3],[1906,-58.2],[1908,-58.8],[1910,-57.6],[1912,-58.2],[1914,-57.0],[1916,-57.6],[1918,-56.4],[1920,-57.0],[1922,-55.8],[1924,-56.4],[1926,-55],[1950,-38],[1968,-31.2],[1972,-29.6],[1976,-30.8],[1980,-29.0],[1984,-30.5],[1988,-28.8],[1992,-30.2],[1996,-28.6],[2000,-30.0],[2004,-28.4],[2008,-29.8],[2012,-28.2],[2016,-29.6],[2020,-28.0],[2024,-29.4],[2028.3,-28.2]];
const blue43clover = [[1750,-28.5],[1750.7,-32.0],[1751.4,-29.0],[1752.1,-33.5],[1752.8,-29.6],[1753.5,-32.8],[1754.2,-30.2],[1755,-34.3],[1756,-30.8],[1757,-33.0],[1758,-31.2],[1759,-34.6],[1760,-32.0],[1761,-35.2],[1762,-33.0],[1763,-35.8],[1764,-33.6],[1765,-36.5],[1766,-34.6],[1767,-37.2],[1768,-35.6],[1769,-37.8],[1770,-36.2],[1771,-38.6],[1772,-37.0],[1773,-39.2],[1774,-37.9],[1775,-40.0],[1776,-38.6],[1777,-40.8],[1778,-39.4],[1780,-41.6],[1782,-40.9],[1784,-43.2],[1786,-42.6],[1788,-45.4],[1790,-45.0],[1792,-47.2],[1794,-47.0],[1796,-49.0],[1798,-48.6],[1800,-50.8],[1802,-50.4],[1804,-52.5],[1806,-52.2],[1808,-54.3],[1810,-54.0],[1812,-56.0],[1814,-55.8],[1816,-57.5],[1818,-57.2],[1820,-59.0],[1822,-58.6],[1824,-60.2],[1826,-59.4],[1828,-60.8],[1830,-59.7],[1832,-61.0],[1890,-63],[1896,-60.4],[1898,-59.6],[1900,-60.2],[1902,-59.2],[1904,-59.8],[1906,-58.6],[1908,-59.4],[1910,-58.0],[1912,-58.8],[1914,-57.4],[1916,-58.2],[1918,-56.8],[1920,-57.6],[1922,-56.2],[1924,-57.0],[1926,-56],[1950,-40],[1965,-32.5],[1968,-30.8],[1970,-32.0],[1972,-30.4],[1974,-31.6],[1976,-30.2],[1978,-31.4],[1980,-29.9],[1982,-31.2],[1984,-29.8],[1986,-31.0],[1988,-29.6],[1990,-30.8],[1992,-29.4],[1994,-30.6],[1996,-29.3],[1998,-30.5],[2000,-29.2],[2002,-30.4],[2004,-29.1],[2006,-30.3],[2008,-29.0],[2010,-30.2],[2012,-28.9],[2014,-30.1],[2016,-28.8],[2018,-30.6],[2020,-28.7],[2022,-31.5],[2024,-28.6],[2026,-31.0],[2028.3,-29.0]];

const seriesData = [yellow8, yellow8fig8, orange43, orange43x3, red23, red23x6, red43clover, green8, green8fig8, blue43, blue43x3, navy23, navy23x6, blue43clover];

// ---------- drawing ----------
const M = {left: 85, right: 1027, top: 10, bottom: 849};
const svg = d3.select("#c");
const x = d3.scaleLinear().domain([1750, 2028.3]).range([M.left, M.right]);
const y = d3.scaleLinear().domain([-60, 5]).range([M.bottom, M.top]);

svg.append("defs").append("clipPath").attr("id","clip")
  .append("rect").attr("x",M.left).attr("y",M.top).attr("width",M.right-M.left).attr("height",M.bottom-M.top);

const dash = {solid:null, dashed:"12,8", dotted:"1.6,3"};
const width = {solid:2, dashed:2, dotted:1.6};
const line = d3.line().x(d=>x(d[0])).y(d=>y(d[1]));
const g = svg.append("g").attr("clip-path","url(#clip)");
seriesData.forEach((d,i)=>{
  g.append("path").attr("d", line(d)).attr("fill","none")
    .attr("stroke", seriesColors[i]).attr("stroke-width", width[seriesStyles[i]])
    .attr("stroke-dasharray", dash[seriesStyles[i]]).attr("stroke-linejoin","round");
});

// axes
const axCol = "#262626";
const xAxis = d3.axisBottom(x).tickValues(xTicks).tickSize(-10).tickPadding(14).tickFormat(d3.format("d"));
const yAxis = d3.axisLeft(y).tickValues(yTicks).tickSize(-10).tickPadding(12).tickFormat(d=>String(d));
const gx = svg.append("g").attr("transform",`translate(0,${M.bottom})`).call(xAxis);
const gy = svg.append("g").attr("transform",`translate(${M.left},0)`).call(yAxis);
[gx,gy].forEach(a=>{
  a.select(".domain").attr("stroke",axCol).attr("stroke-width",1);
  a.selectAll(".tick line").attr("stroke",axCol).attr("stroke-width",1);
  a.selectAll("text").attr("font-size","22px").attr("fill",axCol).style("font-family","'Liberation Sans',Arial,sans-serif");
});
gy.select(".domain").attr("d",`M0,${M.bottom}V${M.top-1}`);
gx.select(".domain").attr("d",`M${M.left},0H${M.right}`);

svg.append("text").attr("x",(M.left+M.right)/2).attr("y",913).attr("text-anchor","middle")
  .attr("font-size","24px").text("Wavelength [nm]");
svg.append("text").attr("transform",`translate(29,${(M.top+M.bottom)/2}) rotate(-90)`).attr("text-anchor","middle")
  .attr("font-size","24px").text("Attenuation [dB]");

// legend
const L = {x:676, y:460, w:336, h:367, row:26.15, first:13};
const lg = svg.append("g");
lg.append("rect").attr("x",L.x).attr("y",L.y).attr("width",L.w).attr("height",L.h)
  .attr("fill","#fff").attr("stroke","#3c3c3c").attr("stroke-width",1);
seriesNames.forEach((n,i)=>{
  const cy = L.y + L.first + i*L.row;
  lg.append("line").attr("x1",L.x+6).attr("x2",L.x+41).attr("y1",cy).attr("y2",cy)
    .attr("stroke",seriesColors[i]).attr("stroke-width",width[seriesStyles[i]])
    .attr("stroke-dasharray", dash[seriesStyles[i]]);
  lg.append("text").attr("x",L.x+46).attr("y",cy).attr("dy","0.35em")
    .attr("font-size","20.5px").attr("fill","#000").text(n);
});
</script></body></html>
